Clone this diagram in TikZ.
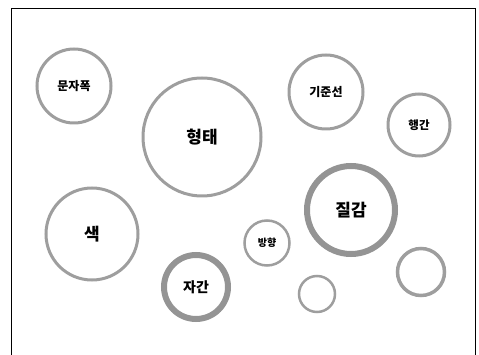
\documentclass[tikz,border=0pt]{standalone}
\usepackage{fontspec}
\newfontfamily\kr{Noto Sans CJK KR}
\begin{document}
\begin{tikzpicture}[x=1pt,y=-1pt,
  ring/.style={circle,draw=black!38,line width=3pt,minimum size=#1,inner sep=0pt},
  thickring/.style={ring=#1,line width=6pt,draw=black!42}]
\useasboundingbox (0,0) rectangle (479,355);
\draw[line width=1pt] (11,355) -- (11,9) -- (475,9) -- (475,355);
\node[ring=74pt,font=\kr\bfseries\fontsize{12}{12}\selectfont] (munja) at (74,86) {문자폭};
\node[ring=118pt,font=\kr\bfseries\fontsize{17}{17}\selectfont] (hyeong) at (202,137) {형태};
\node[ring=74pt,font=\kr\bfseries\fontsize{12}{12}\selectfont] (gijun) at (326,92) {기준선};
\node[ring=62pt,font=\kr\bfseries\fontsize{11.5}{11.5}\selectfont] (haeng) at (419,125) {행간};
\node[thickring=88pt,font=\kr\bfseries\fontsize{17}{17}\selectfont] (jil) at (351,210) {질감};
\node[ring=92pt,font=\kr\bfseries\fontsize{17}{17}\selectfont] (saek) at (92,234) {색};
\node[ring=45pt,line width=2.5pt,font=\kr\bfseries\fontsize{10}{10}\selectfont] (bang) at (267,243) {방향};
\node[thickring=64pt,font=\kr\bfseries\fontsize{14}{14}\selectfont] (ja) at (196,287) {자간};
\node[ring=36pt,line width=2.5pt] (s1) at (317,294) {};
\node[ring=47pt,line width=3.5pt] (s2) at (421,272) {};
\end{tikzpicture}
\end{document}
